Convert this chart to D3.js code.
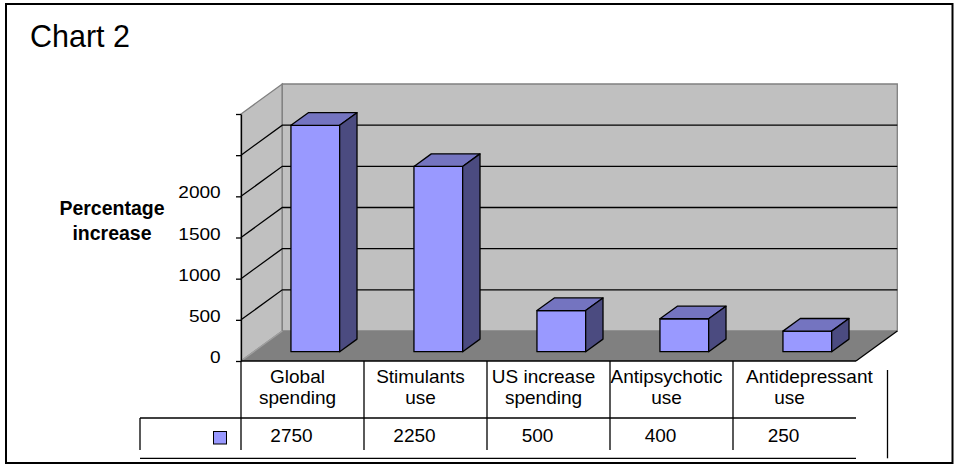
<!DOCTYPE html>
<html>
<head>
<meta charset="utf-8">
<script src="https://cdn.jsdelivr.net/npm/d3@7"></script>
<style>
  html, body { margin: 0; padding: 0; background: #fff; }
  svg { display: block; font-family: "Liberation Sans", Arial, sans-serif; }
</style>
</head>
<body>
<svg id="chart" width="956" height="466"></svg>
<script>
// Chart values
const categories = ["Global\nspending", "Stimulants\nuse", "US increase\nspending", "Antipsychotic\nuse", "Antidepressant\nuse"];
const values = [2750, 2250, 500, 400, 250];
const yTicks = [0, 500, 1000, 1500, 2000, 2500, 3000];
const yTickLabels = ["0", "500", "1000", "1500", "2000", "", ""];
const yTitle = ["Percentage", "increase"];
const chartTitle = "Chart 2";

const svg = d3.select("#chart");

// Plot geometry (front plane of the 3D box plus depth offset)
const plotLeft = 241, plotRight = 856, plotBase = 361, plotTop = 114;
const depth = { dx: 41.3, dy: 30 };
const barZ = [0.31, 0.73];

const y = d3.scaleLinear().domain([0, 3000]).range([plotBase, plotTop]);
const x = d3.scaleBand().domain(categories).range([plotLeft, plotRight]).padding(0);

const proj = (xv, v, z) => [xv + z * depth.dx, y(v) - z * depth.dy];
const poly = pts => pts.map(p => p.join(",")).join(" ");

// Outer frame
svg.append("rect")
  .attr("x", 6).attr("y", 4).attr("width", 946.5).attr("height", 459)
  .attr("fill", "none").attr("stroke", "#000").attr("stroke-width", 2);

svg.append("text")
  .attr("x", 30).attr("y", 46.7)
  .attr("font-size", 30.5)
  .text(chartTitle);

// Side wall, back wall, floor
const vMax = y.domain()[1];
svg.append("polygon")
  .attr("points", poly([proj(plotLeft, 0, 0), proj(plotLeft, vMax, 0), proj(plotLeft, vMax, 1), proj(plotLeft, 0, 1)]))
  .attr("fill", "#c0c0c0").attr("stroke", "#808080").attr("stroke-width", 1.3);
svg.append("polygon")
  .attr("points", poly([proj(plotLeft, 0, 1), proj(plotLeft, vMax, 1), proj(plotRight, vMax, 1), proj(plotRight, 0, 1)]))
  .attr("fill", "#c0c0c0").attr("stroke", "#808080").attr("stroke-width", 1.3);
svg.append("polygon")
  .attr("points", poly([proj(plotLeft, 0, 0), proj(plotLeft, 0, 1), proj(plotRight, 0, 1), proj(plotRight, 0, 0)]))
  .attr("fill", "#808080").attr("stroke", "none");
svg.append("line")
  .attr("x1", proj(plotRight, 0, 1)[0]).attr("y1", proj(plotRight, 0, 1)[1])
  .attr("x2", proj(plotRight, 0, 0)[0]).attr("y2", proj(plotRight, 0, 0)[1])
  .attr("stroke", "#000").attr("stroke-width", 1.3);
svg.append("line")
  .attr("x1", proj(plotLeft, 0, 0)[0]).attr("y1", proj(plotLeft, 0, 0)[1])
  .attr("x2", proj(plotLeft, 0, 1)[0]).attr("y2", proj(plotLeft, 0, 1)[1])
  .attr("stroke", "#a0a0a0").attr("stroke-width", 1.3);

// Gridlines across side wall and back wall
svg.append("g").selectAll("polyline")
  .data(yTicks.filter(v => v > 0 && v < vMax))
  .join("polyline")
  .attr("points", v => poly([proj(plotLeft, v, 0), proj(plotLeft, v, 1), proj(plotRight, v, 1)]))
  .attr("fill", "none").attr("stroke", "#000").attr("stroke-width", 1.3);

// Bars
const bw = x.bandwidth() * 0.396;
const bars = svg.append("g").selectAll("g")
  .data(categories.map((c, i) => ({ c, v: values[i] })))
  .join("g");
bars.each(function (d) {
  const g = d3.select(this);
  const xl = x(d.c) + (x.bandwidth() - bw) / 2, xr = xl + bw;
  const [z0, z1] = barZ;
  const face = (pts, fill) => g.append("polygon")
    .attr("points", poly(pts)).attr("fill", fill)
    .attr("stroke", "#000").attr("stroke-width", 1.3).attr("stroke-linejoin", "round");
  face([proj(xl, d.v, z0), proj(xr, d.v, z0), proj(xr, 0, z0), proj(xl, 0, z0)], "#9999ff");
  face([proj(xl, d.v, z0), proj(xl, d.v, z1), proj(xr, d.v, z1), proj(xr, d.v, z0)], "#7474c0");
  face([proj(xr, d.v, z0), proj(xr, d.v, z1), proj(xr, 0, z1), proj(xr, 0, z0)], "#4b4b80");
});

// Value axis on the front edge
const axis = svg.append("g")
  .attr("transform", `translate(${plotLeft},0)`)
  .call(d3.axisLeft(y).tickValues(yTicks).tickSize(5).tickSizeOuter(0)
    .tickFormat((d, i) => yTickLabels[i]));
axis.select(".domain").attr("stroke", "#000").attr("stroke-width", 1.3);
axis.selectAll(".tick line").attr("stroke", "#000").attr("stroke-width", 1.3);
axis.selectAll(".tick text")
  .attr("x", 0).attr("dy", null)
  .attr("transform", "translate(-20.3,1.5) scale(1.19,1)")
  .attr("text-anchor", "end")
  .attr("font-family", "'Liberation Sans', Arial, sans-serif")
  .attr("font-size", 16)
  .attr("fill", "#000");

// Axis title
svg.append("text")
  .attr("text-anchor", "middle")
  .attr("font-weight", "bold")
  .attr("font-size", 19.5)
  .selectAll("tspan")
  .data(yTitle)
  .join("tspan")
  .attr("x", 112)
  .attr("y", (d, i) => 215 + i * 25)
  .text(d => d);

// Data table beneath the floor
const table = svg.append("g").attr("stroke", "#000").attr("stroke-width", 1.3);
const rowTop = plotBase, rowMid = 418, rowEnd = 450, tableBottom = 458.3, tableLeft = 140;
table.append("line").attr("x1", plotLeft).attr("x2", plotRight).attr("y1", rowTop).attr("y2", rowTop);
table.append("line").attr("x1", tableLeft).attr("x2", plotRight).attr("y1", rowMid).attr("y2", rowMid);
table.append("line").attr("x1", tableLeft).attr("x2", plotRight).attr("y1", tableBottom).attr("y2", tableBottom);
table.append("line").attr("x1", tableLeft).attr("x2", tableLeft).attr("y1", rowMid).attr("y2", rowEnd);
table.append("line").attr("x1", 887.5).attr("x2", 887.5).attr("y1", 370).attr("y2", tableBottom);
table.selectAll(".sep")
  .data(categories)
  .join("line")
  .attr("class", "sep")
  .attr("x1", d => x(d)).attr("x2", d => x(d))
  .attr("y1", rowTop).attr("y2", rowEnd);

// Category headers
const headers = svg.append("g").attr("font-size", 19);
categories.forEach(c => {
  const cx = x(c) + x.bandwidth() / 2 - 5;
  c.split("\n").forEach((line, i) => {
    const t = headers.append("text")
      .attr("x", cx).attr("y", 383.3 + i * 20.2)
      .attr("text-anchor", "middle")
      .text(line);
    const w = t.node().getComputedTextLength();
    if (w > x.bandwidth()) {
      t.attr("text-anchor", "start").attr("x", x(c) + 13);
    }
  });
});

// Legend key and values row
svg.append("rect")
  .attr("x", 213.5).attr("y", 431.5).attr("width", 13).attr("height", 12.5)
  .attr("fill", "#9999ff").attr("stroke", "#000").attr("stroke-width", 1);
svg.append("g").attr("font-size", 19)
  .selectAll("text")
  .data(categories.map((c, i) => ({ c, v: values[i] })))
  .join("text")
  .attr("x", d => x(d.c) + x.bandwidth() / 2 - 11)
  .attr("y", 441.7)
  .attr("text-anchor", "middle")
  .text(d => d.v);
</script>
</body>
</html>
